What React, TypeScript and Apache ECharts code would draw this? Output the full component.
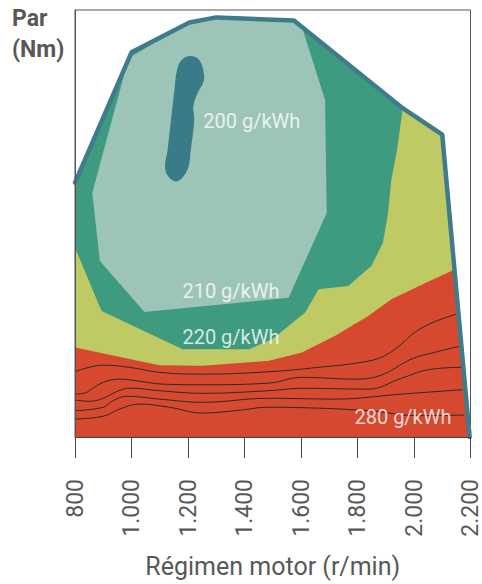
import React, { useEffect, useRef } from "react";
import * as echarts from "echarts";

// X axis (engine speed, r/min)
const rpmMin = 800;
const rpmMax = 2200;
const rpmStep = 200;
// Y axis (torque, Nm) – no tick labels in the original
const nmMin = 0;
const nmMax = 2140;

// Full-load envelope (outline)
const envelope: number[][] = [
  [800, 1275], [1000, 1928], [1205, 2077], [1300, 2103], [1575, 2087],
  [1960, 1648], [2100, 1515], [2197, 0],
];

// > 220 g/kWh zone (red) = whole envelope area
const zoneRed: number[][] = [...envelope, [800, 0]];

// 220 g/kWh zone (yellow-green)
const zoneYellow: number[][] = [
  [800, 1275], [1000, 1928], [1205, 2077], [1300, 2103], [1575, 2087],
  [1960, 1648], [2100, 1515], [2144, 840], [2031, 765], [1920, 690],
  [1838, 607], [1721, 507], [1603, 424], [1486, 382], [1251, 357],
  [1099, 360], [800, 449],
];

// 210 g/kWh zone (green)
const zoneGreen: number[][] = [
  [800, 1275], [1000, 1928], [1205, 2077], [1300, 2103], [1575, 2087],
  [1960, 1648], [1940, 1440], [1920, 1290], [1908, 1123], [1890, 973],
  [1849, 857], [1767, 757], [1662, 740], [1615, 624], [1498, 490],
  [1416, 440], [1181, 440], [894, 632], [800, 949],
];

// 200 g/kWh zone (light)
const zoneLight: number[][] = [
  [861, 1223], [990, 1900], [1205, 2077], [1300, 2103], [1575, 2087],
  [1603, 2056], [1685, 1690], [1691, 1123], [1556, 698], [1046, 627],
  [888, 882],
];

// Best-consumption island (dark)
const zoneBest: number[][] = [
  [1210, 1910], [1240, 1890], [1255, 1832], [1255, 1782], [1234, 1724],
  [1219, 1657], [1222, 1590], [1210, 1440], [1198, 1340], [1163, 1282],
  [1134, 1299], [1119, 1349], [1128, 1440], [1152, 1740], [1163, 1849],
  [1181, 1894],
];

// Iso-consumption lines inside the red zone
const contourA: number[][] = [
  [800, 327], [900, 360], [994, 349], [1099, 324], [1251, 315], [1486, 327],
  [1662, 349], [1826, 377], [1896, 407], [1955, 465], [2002, 524], [2072, 577], [2148, 615],
];
const contourB: number[][] = [
  [800, 215], [835, 220], [859, 240], [900, 274], [958, 290], [1017, 282],
  [1111, 265], [1251, 262], [1486, 270], [1603, 299], [1791, 290], [1884, 310],
  [1990, 390], [2072, 424], [2160, 454],
];
const contourC: number[][] = [
  [800, 185], [853, 179], [900, 194], [947, 227], [994, 245], [1099, 232],
  [1251, 219], [1486, 232], [1603, 244], [1838, 240], [1955, 294], [2049, 337], [2166, 349],
];
const contourD: number[][] = [
  [800, 132], [900, 149], [935, 182], [982, 204], [1099, 190], [1251, 174],
  [1486, 194], [1721, 190], [1955, 215], [2172, 237],
];
const contourE: number[][] = [
  [800, 90], [900, 104], [958, 140], [1029, 165], [1134, 149], [1251, 120],
  [1369, 132], [1486, 149], [1603, 147], [1838, 132], [2014, 107], [2178, 110],
];

// Zone labels
const labelTexts = ["200 g/kWh", "210 g/kWh", "220 g/kWh", "280 g/kWh"];
const labelRpm = [1426, 1352, 1352, 1961];
const labelNm = [1585, 730, 500, 102];

const COLORS = {
  red: "#d6492e",
  yellow: "#bfca65",
  green: "#3e9b7f",
  light: "#9cc5b7",
  best: "#3a7b8a",
  outline: "#3e7c8c",
  contour: "#2a2a2a",
  text: "#585858",
};

const FONT = "Roboto, 'Noto Sans', sans-serif";

function polygonSeries(points: number[][], color: string, smooth = 0) {
  return {
    type: "custom",
    coordinateSystem: "cartesian2d",
    silent: true,
    clip: false,
    data: [points[0]],
    renderItem: (_params: any, api: any) => ({
      type: "polygon",
      shape: { points: points.map((p) => api.coord(p)), smooth },
      style: { fill: color, stroke: "none" },
    }),
  };
}

function contourSeries(points: number[][]) {
  return {
    type: "line",
    data: points,
    smooth: 0.4,
    symbol: "none",
    silent: true,
    lineStyle: { color: COLORS.contour, width: 1 },
  };
}

function formatRpm(v: number) {
  if (v >= 1000) {
    const th = Math.floor(v / 1000);
    const rest = String(v % 1000).padStart(3, "0");
    return `${th}.${rest}`;
  }
  return String(v);
}

export default function App() {
  const ref = useRef<HTMLDivElement>(null);

  useEffect(() => {
    if (!ref.current) return;
    const chart = echarts.init(ref.current, undefined, { renderer: "svg" });
    chart.setOption({
      animation: false,
      backgroundColor: "#ffffff",
      textStyle: { fontFamily: FONT },
      grid: {
        left: 75,
        right: 9,
        top: 10,
        bottom: 146,
        show: true,
        borderColor: "#555555",
        borderWidth: 1,
        backgroundColor: "transparent",
      },
      xAxis: {
        type: "value",
        min: rpmMin,
        max: rpmMax,
        interval: rpmStep,
        z: 10,
        axisLine: { show: true, lineStyle: { color: "#444444", width: 1 } },
        axisTick: { show: true, length: 21, lineStyle: { color: "#444444", width: 1 } },
        splitLine: { show: false },
        axisLabel: {
          rotate: 90,
          margin: 42,
          fontSize: 23,
          color: COLORS.text,
          fontFamily: FONT,
          formatter: (v: number) => formatRpm(v),
        },
        name: "Régimen motor (r/min)",
        nameLocation: "middle",
        nameGap: 117,
        nameTextStyle: { fontSize: 25, color: COLORS.text, fontFamily: FONT },
      },
      yAxis: {
        type: "value",
        min: nmMin,
        max: nmMax,
        z: 10,
        axisLine: { show: true, lineStyle: { color: "#555555", width: 1 } },
        axisTick: { show: false },
        axisLabel: { show: false },
        splitLine: { show: false },
      },
      graphic: [
        {
          type: "text",
          left: 12,
          top: 3,
          style: {
            text: "Par\n(Nm)",
            fontSize: 23,
            fontWeight: "bold",
            lineHeight: 31,
            fill: COLORS.text,
            fontFamily: FONT,
          },
        },
      ],
      series: [
        polygonSeries(zoneRed, COLORS.red),
        polygonSeries(zoneYellow, COLORS.yellow),
        polygonSeries(zoneGreen, COLORS.green),
        polygonSeries(zoneLight, COLORS.light),
        polygonSeries(zoneBest, COLORS.best, 0.4),
        contourSeries(contourA),
        contourSeries(contourB),
        contourSeries(contourC),
        contourSeries(contourD),
        contourSeries(contourE),
        {
          type: "line",
          data: envelope,
          symbol: "none",
          silent: true,
          clip: false,
          lineStyle: { color: COLORS.outline, width: 4.5, join: "round", cap: "round" },
        },
        {
          type: "scatter",
          symbolSize: 0,
          silent: true,
          z: 20,
          data: labelTexts.map((t, i) => ({ name: t, value: [labelRpm[i], labelNm[i]] })),
          label: {
            show: true,
            position: "inside",
            formatter: "{b}",
            color: "#ffffff",
            fontSize: 20,
            fontFamily: FONT,
          },
        },
      ],
    });
    return () => chart.dispose();
  }, []);

  return (
    <div
      ref={ref}
      style={{ position: "fixed", left: 0, top: 0, width: 482, height: 584 }}
    />
  );
}
